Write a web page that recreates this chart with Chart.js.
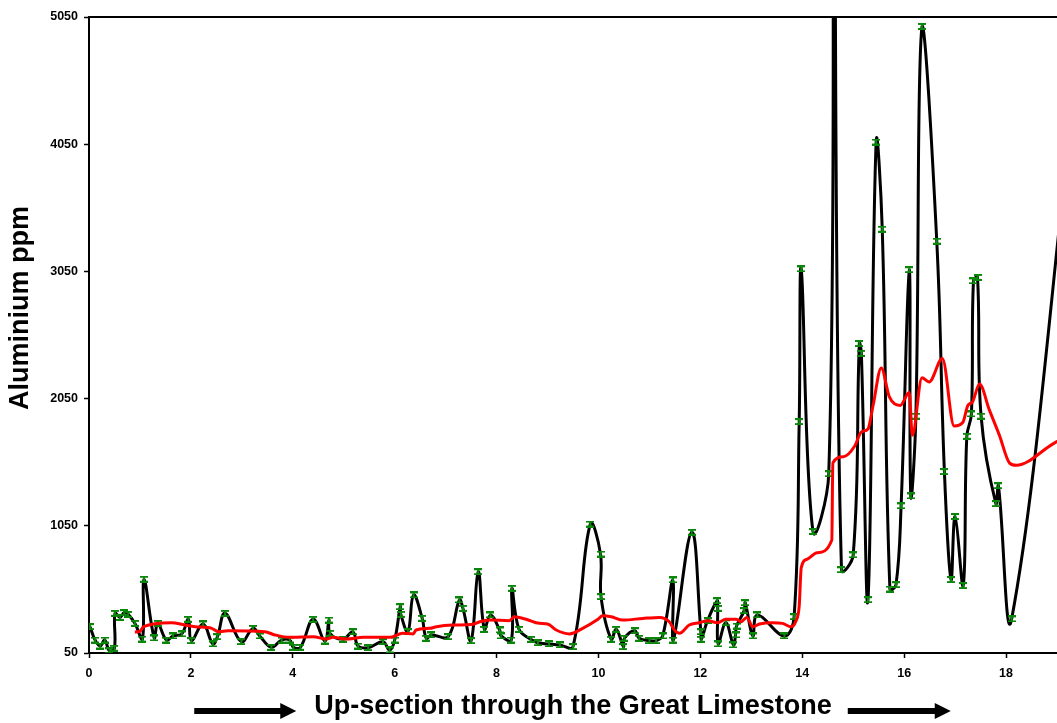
<!DOCTYPE html>
<html>
<head>
<meta charset="utf-8">
<title>Aluminium ppm - Great Limestone</title>
<script src="https://cdn.jsdelivr.net/npm/chart.js@4.4.1/dist/chart.umd.min.js"></script>
<style>
  html, body { margin: 0; padding: 0; background: #fff; }
</style>
</head>
<body>
<canvas id="alChart" width="1057" height="723"></canvas>
<script>
// depth up-section (x) and aluminium ppm (y) for each sample
const depth = [0.02, 0.12, 0.22, 0.31, 0.40, 0.50, 0.51, 0.61, 0.69, 0.77, 0.90, 1.05, 1.08, 1.28, 1.35, 1.52, 1.65, 1.82, 1.95, 2.01,
  2.24, 2.43, 2.52, 2.67, 2.99, 3.22, 3.35, 3.58, 3.78, 3.94, 4.01, 4.15, 4.40, 4.63, 4.71, 4.73, 4.99, 5.18, 5.28, 5.48,
  5.77, 5.90, 6.00, 6.11, 6.12, 6.26, 6.37, 6.54, 6.62, 6.72, 7.05, 7.27, 7.34, 7.50, 7.64, 7.76, 7.88, 8.06, 8.09, 8.29,
  8.30, 8.44, 8.67, 8.81, 9.03, 9.24, 9.50, 9.84, 10.04, 10.05, 10.25, 10.35, 10.49, 10.51, 10.71, 10.80, 11.00, 11.13, 11.26, 11.46,
  11.47, 11.83, 12.01, 12.02, 12.14, 12.33, 12.34, 12.35, 12.50, 12.65, 12.69, 12.71, 12.86, 12.88, 13.03, 13.12, 13.65, 13.84, 13.94, 13.98,
  14.21, 14.52, 14.62, 14.77, 15.00, 15.12, 15.16, 15.29, 15.45, 15.57, 15.72, 15.84, 15.94, 16.10, 16.13, 16.23, 16.35, 16.64, 16.79, 16.92,
  17.00, 17.16, 17.23, 17.32, 17.36, 17.44, 17.51, 17.80, 17.85, 18.11, 19.40];
const aluminium = [257, 152, 105, 152, 68, 87, 362, 330, 367, 354, 283, 160, 630, 168, 283, 152, 184, 200, 315, 147,
  278, 121, 178, 362, 139, 244, 184, 95, 152, 152, 95, 95, 315, 144, 309, 205, 160, 217, 105, 92,
  139, 74, 152, 414, 354, 217, 506, 323, 166, 192, 178, 467, 401, 147, 689, 236, 349, 231, 184, 152,
  559, 236, 158, 131, 121, 113, 100, 1064, 828, 493, 158, 236, 100, 166, 225, 166, 147, 147, 184, 624,
  152, 999, 217, 158, 304, 461, 401, 121, 288, 113, 192, 262, 383, 445, 184, 349, 184, 335, 1869, 3070,
  1006, 1459, 6200, 704, 821, 2483, 2406, 469, 4067, 3382, 553, 587, 1207, 3063, 1285, 1912, 4976, 3288, 1476, 627,
  1123, 580, 1754, 1929, 2976, 3003, 1912, 1224, 1365, 318, 4700];

// running average (red line)
const avgDepth = [0.90, 1.00, 1.07, 1.62, 1.88, 2.08, 2.41, 2.54, 2.73, 3.45, 3.65, 3.94, 4.40, 4.66, 4.79, 5.05, 5.38, 5.90, 6.16, 6.36,
  6.42, 6.69, 6.82, 7.14, 7.54, 7.67, 7.86, 8.25, 8.35, 8.58, 8.84, 9.00, 9.17, 9.43, 9.69, 9.99, 10.08, 10.25, 10.48, 10.87,
  11.20, 11.39, 11.49, 11.59, 11.78, 11.98, 12.14, 12.34, 12.50, 12.70, 12.80, 12.91, 13.03, 13.16, 13.42, 13.61, 13.78, 13.87, 13.94, 13.98,
  14.10, 14.29, 14.58, 14.60, 14.81, 15.03, 15.16, 15.29, 15.39, 15.55, 15.71, 15.92, 16.10, 16.16, 16.35, 16.49, 16.75, 16.98, 17.15, 17.25,
  17.34, 17.48, 17.67, 17.87, 18.07, 18.20, 18.92, 19.20];
const avgAluminium = [215, 220, 257, 288, 270, 257, 244, 217, 225, 217, 192, 173, 178, 160, 173, 160, 173, 173, 205, 200,
  231, 244, 257, 270, 276, 296, 309, 304, 335, 315, 283, 278, 231, 200, 244, 315, 343, 335, 309, 322,
  330, 296, 231, 205, 270, 288, 304, 288, 315, 315, 296, 330, 257, 278, 288, 283, 257, 296, 419, 721,
  788, 838, 939, 1543, 1593, 1677, 1788, 1811, 1996, 2291, 2063, 1996, 2097, 1761, 2214, 2181, 2365, 1835, 1862, 1996,
  2023, 2164, 1963, 1761, 1543, 1526, 1694, 1760];

const xTitle = 'Up-section through the Great Limestone';
const yTitle = 'Aluminium ppm';

const FONT = '"Liberation Sans", Arial, sans-serif';

// small green error-bar glyph used as point marker
function makeMarker() {
    const c = document.createElement('canvas');
    c.width = 8;
    c.height = 7;
    const g = c.getContext('2d');
    g.fillStyle = '#0a870a';
    g.fillRect(0, 0, 8, 2);
    g.fillRect(3, 2, 2, 3);
    g.fillRect(0, 5, 8, 2);
    return c;
}

// top frame line + rotated y title + arrows either side of x title
const decorations = {
    id: 'decorations',
    afterDraw(chart) {
        const ctx = chart.ctx;
        const area = chart.chartArea;
        ctx.save();
        ctx.strokeStyle = '#000';
        ctx.lineWidth = 2;
        ctx.beginPath();
        ctx.moveTo(area.left, area.top);
        ctx.lineTo(area.right, area.top);
        ctx.stroke();

        ctx.fillStyle = '#000';
        ctx.font = 'bold 27px ' + FONT;
        ctx.textAlign = 'center';
        ctx.textBaseline = 'middle';
        ctx.translate(21, (area.top + area.bottom) / 2 - 27);
        ctx.rotate(-Math.PI / 2);
        ctx.fillText(yTitle, 0, 0);
        ctx.restore();

        ctx.save();
        ctx.font = 'bold 27px ' + FONT;
        const w = ctx.measureText(xTitle).width;
        const cx = (area.left + area.right) / 2;
        const y = chart.scales.x.bottom - 12;
        const drawArrow = (tail, tip) => {
            ctx.fillStyle = '#000';
            ctx.fillRect(tail, y - 3, tip - 15 - tail, 6);
            ctx.beginPath();
            ctx.moveTo(tip - 16, y - 8);
            ctx.lineTo(tip, y);
            ctx.lineTo(tip - 16, y + 8);
            ctx.closePath();
            ctx.fill();
        };
        drawArrow(cx - w / 2 - 120, cx - w / 2 - 18);
        drawArrow(cx + w / 2 + 16, cx + w / 2 + 119);
        ctx.restore();
    }
};

const tickFont = { family: FONT, size: 12.5, weight: 'bold' };

new Chart(document.getElementById('alChart'), {
    type: 'line',
    data: {
        datasets: [
            {
                label: 'Running average',
                data: avgDepth.map((d, i) => ({ x: d, y: avgAluminium[i] })),
                borderColor: '#ff0000',
                borderWidth: 3,
                pointRadius: 0,
                cubicInterpolationMode: 'monotone',
                order: 0
            },
            {
                label: 'Aluminium',
                data: depth.map((d, i) => ({ x: d, y: aluminium[i] })),
                borderColor: '#000000',
                borderWidth: 3,
                tension: 0.4,
                pointStyle: makeMarker(),
                pointRadius: 4,
                order: 1
            }
        ]
    },
    options: {
        responsive: false,
        animation: false,
        layout: { autoPadding: false, padding: { top: 17, right: 0, bottom: 0, left: 0 } },
        plugins: {
            legend: { display: false },
            tooltip: { enabled: false }
        },
        scales: {
            x: {
                type: 'linear',
                min: 0,
                max: 19,
                ticks: {
                    stepSize: 2,
                    includeBounds: false,
                    padding: 8,
                    color: '#000',
                    font: tickFont,
                    maxRotation: 0,
                    callback: v => String(v)
                },
                grid: { drawOnChartArea: false, tickLength: 5, tickColor: '#000', tickWidth: 1.5 },
                border: { color: '#000', width: 2 },
                title: {
                    display: true,
                    text: xTitle,
                    color: '#000',
                    font: { family: FONT, size: 27, weight: 'bold' },
                    padding: { top: 0, bottom: 0 }
                },
                afterFit: s => {
                    s.height = 70;
                    s.paddingLeft = 0;
                    s.paddingRight = 0;
                }
            },
            y: {
                min: 50,
                max: 5050,
                ticks: {
                    stepSize: 1000,
                    padding: 6,
                    color: '#000',
                    font: tickFont,
                    callback: v => String(v)
                },
                grid: { drawOnChartArea: false, tickLength: 5, tickColor: '#000', tickWidth: 1.5 },
                border: { color: '#000', width: 2 },
                afterFit: s => { s.width = 89; }
            }
        }
    },
    plugins: [decorations]
});
</script>
</body>
</html>
